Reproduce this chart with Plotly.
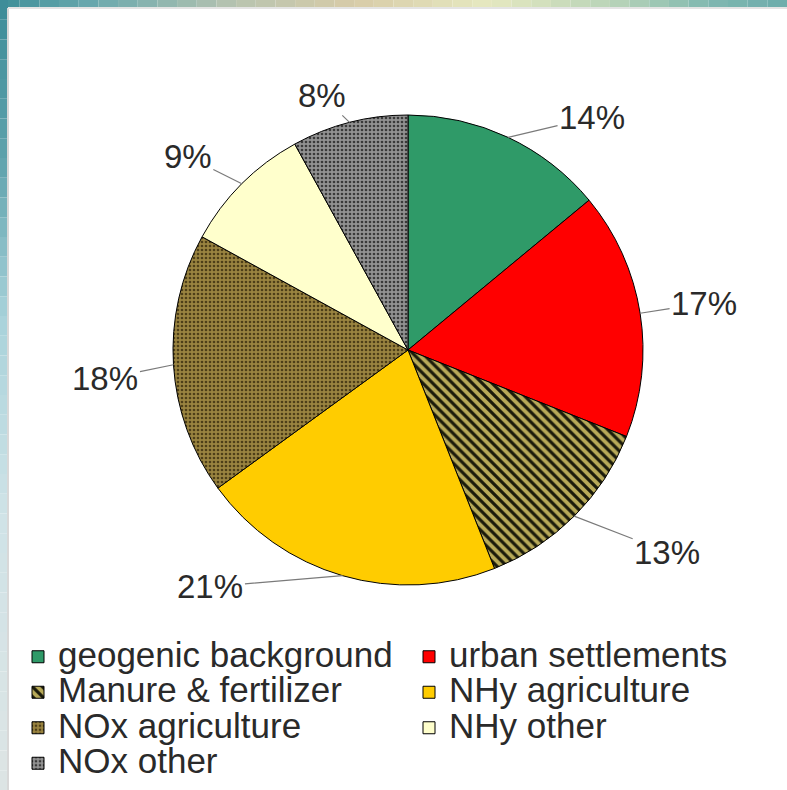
import math
import plotly.graph_objects as go

# Nitrogen deposition source shares (%), clockwise from 12 o'clock
sources = [
    "geogenic background",
    "urban settlements",
    "Manure & fertilizer",
    "NHy agriculture",
    "NOx agriculture",
    "NHy other",
    "NOx other",
]
shares = [14, 17, 13, 21, 18, 9, 8]

# Slice styling
fill_colors = ["#2f9a68", "#ff0000", "#a89a48", "#ffcc00", "#8c7434", "#ffffcc", "#8c8c8c"]
pattern_shapes = ["", "", "\\", "", ".", "", "."]
pattern_fg = ["#000000", "#000000", "#1a1a0a", "#000000", "#4e3f18", "#000000", "#3a3a3a"]
pattern_bg = [None, None, "#b8aa58", None, "#9a8440", None, "#929292"]
pattern_size = [6, 6, 7, 6, 4, 6, 4]
pattern_solidity = [0.3, 0.3, 0.45, 0.3, 0.35, 0.3, 0.35]

# Pixel offsets of each percentage label from the slice's rim point
label_offsets = [(84, -20), (64, -10), (93, 36), (-132, 11), (-68, 14), (-54, -27), (-28, -27)]

W, H = 787, 790
CX, CY, R = 408, 350, 235
TEXT = "#2a2a2a"
FONT = "Liberation Sans, Arial, sans-serif"

fig = go.Figure()

fig.add_trace(go.Pie(
    labels=[f'<span style="font-size:35px">{s}</span>' for s in sources],
    values=shares,
    sort=False,
    direction="clockwise",
    rotation=0,
    textinfo="none",
    hoverinfo="label+percent",
    marker=dict(
        colors=fill_colors,
        line=dict(color="#000000", width=1),
        pattern=dict(
            shape=pattern_shapes,
            fgcolor=pattern_fg,
            bgcolor=[b if b else c for b, c in zip(pattern_bg, fill_colors)],
            size=pattern_size,
            solidity=pattern_solidity,
        ),
    ),
    domain=dict(
        x=[(CX - R) / W, (CX + R) / W],
        y=[1 - (CY + R) / H, 1 - (CY - R) / H],
    ),
))

# Percentage labels with leader lines, anchored at each slice's mid-angle on the rim
annotations = []
total = sum(shares)
cum = 0
for v, (dx, dy) in zip(shares, label_offsets):
    mid = (cum + v / 2) / total * 2 * math.pi
    cum += v
    ex = CX + R * math.sin(mid)
    ey = CY - R * math.cos(mid)
    annotations.append(dict(
        x=ex / W, y=1 - ey / H, xref="paper", yref="paper",
        ax=dx, ay=dy, showarrow=True, arrowhead=0, arrowwidth=1.2,
        arrowcolor="#7a7a7a", standoff=0,
        text=f"{round(v / total * 100)}%",
        font=dict(size=33, color=TEXT, family=FONT),
    ))

# Slide frame: teal gradient bands along the top and left edges
def lerp_color(stops, t):
    for (t0, c0), (t1, c1) in zip(stops, stops[1:]):
        if t0 <= t <= t1:
            f = (t - t0) / (t1 - t0) if t1 > t0 else 0
            a = [int(c0[i:i + 2], 16) for i in (1, 3, 5)]
            b = [int(c1[i:i + 2], 16) for i in (1, 3, 5)]
            return "#" + "".join(f"{round(a[k] + (b[k] - a[k]) * f):02x}" for k in range(3))
    return stops[-1][1]

top_stops = [(0, "#3f8f99"), (0.12, "#6aa9ae"), (0.3, "#b8c4b0"), (0.45, "#d8cca8"),
             (0.62, "#e6e8c0"), (0.78, "#b8d4b8"), (0.9, "#80b8b0"), (1, "#6cacac")]
left_stops = [(0, "#3c8c98"), (0.2, "#5ea2ac"), (0.4, "#a8d2da"), (0.65, "#cfe3e7"), (1, "#dde4e4")]

shapes = []
n = 40
for i in range(n):
    x0, x1 = W * i / n, W * (i + 1) / n
    shapes.append(dict(type="rect", xref="paper", yref="paper", layer="below",
                       x0=x0 / W, x1=x1 / W, y0=1 - 8 / H, y1=1,
                       fillcolor=lerp_color(top_stops, (i + 0.5) / n), line=dict(width=0)))
for i in range(n):
    y0, y1 = H * i / n, H * (i + 1) / n
    shapes.append(dict(type="rect", xref="paper", yref="paper", layer="below",
                       x0=0, x1=8 / W, y0=1 - y1 / H, y1=1 - y0 / H,
                       fillcolor=lerp_color(left_stops, (i + 0.5) / n), line=dict(width=0)))
shapes.append(dict(type="line", xref="paper", yref="paper", layer="below",
                   x0=8 / W, x1=8 / W, y0=0, y1=1 - 8 / H,
                   line=dict(color="#d8d8d8", width=2)))
shapes.append(dict(type="line", xref="paper", yref="paper", layer="below",
                   x0=8 / W, x1=1, y0=1 - 8 / H, y1=1 - 8 / H,
                   line=dict(color="#e4e4e4", width=2)))

fig.update_layout(
    width=W, height=H,
    margin=dict(l=0, r=0, t=0, b=0, autoexpand=False),
    paper_bgcolor="#ffffff",
    plot_bgcolor="#ffffff",
    font=dict(family=FONT, color=TEXT),
    showlegend=True,
    legend=dict(
        orientation="h",
        x=18 / W, xanchor="left",
        y=1 - 634 / H, yanchor="top",
        entrywidth=346, entrywidthmode="pixels",
        font=dict(size=25, color=TEXT, family=FONT),
        traceorder="normal",
        itemclick=False,
        bgcolor="rgba(0,0,0,0)",
    ),
    annotations=annotations,
    shapes=shapes,
)

fig.write_html("out.html")
